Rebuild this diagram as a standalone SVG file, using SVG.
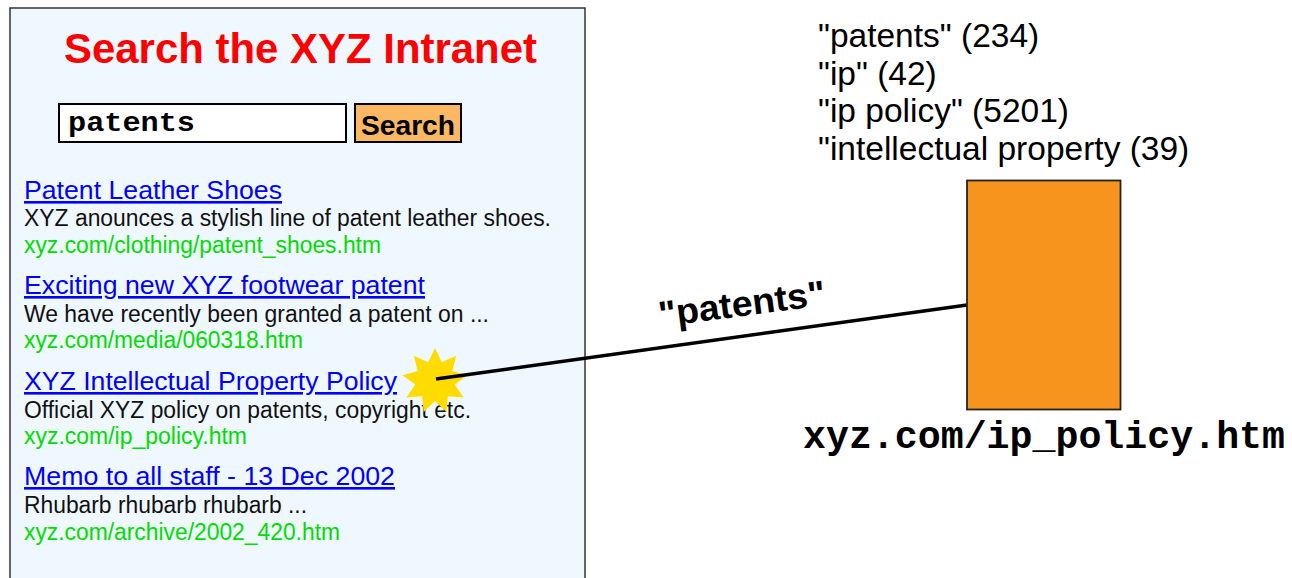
<svg xmlns="http://www.w3.org/2000/svg" width="1292" height="578" viewBox="0 0 1292 578">
<style>
.sans{font-family:"Liberation Sans",Arial,sans-serif}
.mono{font-family:"Liberation Mono","Courier New",monospace;font-weight:bold}
.link{font-family:"Liberation Sans",Arial,sans-serif;font-size:26px;fill:#0000ff;text-decoration:underline}
.desc{font-family:"Liberation Sans",Arial,sans-serif;font-size:23px;fill:#111}
.url{font-family:"Liberation Sans",Arial,sans-serif;font-size:23px;fill:#00dd00}
.terms{font-family:"Liberation Sans",Arial,sans-serif;font-size:33.5px;fill:#000}
</style>
<rect width="1292" height="578" fill="#fff"/>
<g id="search-page">
  <rect x="10" y="8" width="575" height="590" fill="#f0f8ff" stroke="#333" stroke-width="1.5"/>
  <text class="sans" x="300.5" y="63" font-size="42" font-weight="bold" fill="#ff0000" text-anchor="middle" textLength="473" lengthAdjust="spacingAndGlyphs">Search the XYZ Intranet</text>
  <rect x="59" y="104" width="287" height="38" fill="#fff" stroke="#000" stroke-width="2"/>
  <text class="mono" x="68" y="131" font-size="28" textLength="127" lengthAdjust="spacingAndGlyphs">patents</text>
  <rect x="355" y="104" width="106" height="38" fill="#fbb862" stroke="#000" stroke-width="2"/>
  <text class="sans" x="361" y="135" font-size="28" font-weight="bold" fill="#000" textLength="94" lengthAdjust="spacingAndGlyphs">Search</text>
</g>
<g id="result-1">
  <text class="link" x="24" y="199" textLength="258" lengthAdjust="spacingAndGlyphs">Patent Leather Shoes</text>
  <text class="desc" x="24" y="226" textLength="527" lengthAdjust="spacingAndGlyphs">XYZ anounces a stylish line of patent leather shoes.</text>
  <text class="url" x="24" y="253" textLength="357" lengthAdjust="spacingAndGlyphs">xyz.com/clothing/patent_shoes.htm</text>
</g>
<g id="result-2">
  <text class="link" x="24" y="294" textLength="401" lengthAdjust="spacingAndGlyphs">Exciting new XYZ footwear patent</text>
  <text class="desc" x="24" y="322" textLength="465" lengthAdjust="spacingAndGlyphs">We have recently been granted a patent on ...</text>
  <text class="url" x="24" y="348" textLength="279" lengthAdjust="spacingAndGlyphs">xyz.com/media/060318.htm</text>
</g>
<g id="result-3">
  <text class="link" x="24" y="390" textLength="373" lengthAdjust="spacingAndGlyphs">XYZ Intellectual Property Policy</text>
  <text class="desc" x="24" y="418" textLength="447" lengthAdjust="spacingAndGlyphs">Official XYZ policy on patents, copyright etc.</text>
  <text class="url" x="24" y="444" textLength="223" lengthAdjust="spacingAndGlyphs">xyz.com/ip_policy.htm</text>
</g>
<g id="result-4">
  <text class="link" x="24" y="485" textLength="371" lengthAdjust="spacingAndGlyphs">Memo to all staff - 13 Dec 2002</text>
  <text class="desc" x="24" y="513" textLength="283" lengthAdjust="spacingAndGlyphs">Rhubarb rhubarb rhubarb ...</text>
  <text class="url" x="24" y="540" textLength="316" lengthAdjust="spacingAndGlyphs">xyz.com/archive/2002_420.htm</text>
</g>
<g id="star">
  <polygon fill="#ffdc00" points="435,348 441.8,362.2 456.2,355.7 452.3,371 467.5,375.3 454.7,384.5 463.6,397.5 447.9,396.3 446.3,412 435,401 423.7,412 422.1,396.3 406.4,397.5 415.3,384.5 402.5,375.3 417.7,371 413.8,355.7 428.2,362.2"/>
</g>
<g id="connectors">
  <line x1="436" y1="379" x2="967" y2="305" stroke="#000" stroke-width="3.5"/>
  <text class="sans" transform="translate(742,305) rotate(-7.5)" x="0" y="11" font-size="36" font-weight="bold" fill="#000" text-anchor="middle" textLength="168" lengthAdjust="spacingAndGlyphs">"patents"</text>
</g>
<g id="terms">
  <text class="terms" x="818" y="47">"patents" (234)</text>
  <text class="terms" x="818" y="85">"ip" (42)</text>
  <text class="terms" x="818" y="122">"ip policy" (5201)</text>
  <text class="terms" x="818" y="160">"intellectual property (39)</text>
</g>
<g id="document">
  <rect x="967" y="180.5" width="153.5" height="229" fill="#f7941e" stroke="#222" stroke-width="1.8"/>
  <text class="mono" x="803" y="448" font-size="38" textLength="482" lengthAdjust="spacingAndGlyphs">xyz.com/ip_policy.htm</text>
</g>
</svg>
